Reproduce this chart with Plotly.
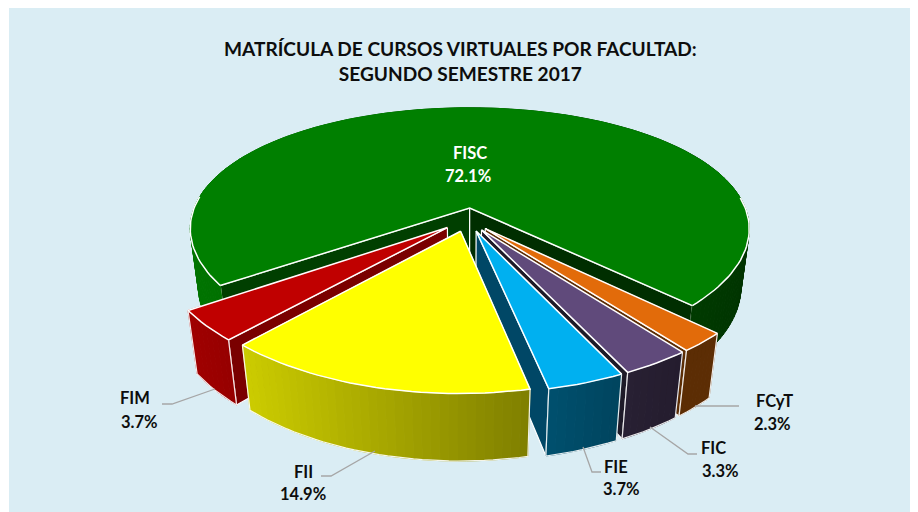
import math
import plotly.graph_objects as go

# ---- data
FACULTADES = ["FISC", "FCyT", "FIC", "FIE", "FII", "FIM"]
PORCENTAJES = [72.1, 2.3, 3.3, 3.7, 14.9, 3.7]
TITULO = "MATRÍCULA DE CURSOS VIRTUALES POR FACULTAD:<br>SEGUNDO SEMESTRE 2017"

# ---- styling per slice
TOP = ["#007F00", "#E26B0A", "#604A7B", "#00B0F0", "#FFFF00", "#C00000"]
WALL_A = ["#007400", "#5C2D04", "#282033", "#00506E", "#CCCC00", "#A00000"]
WALL_B = ["#003400", "#5C2D04", "#241C2E", "#00445E", "#7F7F00", "#960000"]
CUT_START = ["#003F00", None, None, None, None, "#7A0000"]
CUT_END = ["#002E00", "#5C2D04", "#1E1A28", "#004766", None, None]
DRAW_ORDER = ["FISC", "FIM", "FCyT", "FIC", "FIE", "FII"]

# ---- projection of the tilted, exploded pie
CX, CY = 467.5, 219.6
RX, RY, RZ = 280, 124.5, 60
PERSP_X, PERSP_Y, PERSP_Z = 0.17, 0.2, 0.03
EXPLODE = 0.095
FIRST_ANGLE = 235.0


def project(px, py, z=0.0):
    wx = 1 + PERSP_X * py - PERSP_Z * z
    wy = 1 + PERSP_Y * py - PERSP_Z * z
    return CX + RX * px / wx, CY - (RY * py + RZ * z) / wy


def mix(a, b, t):
    ca = [int(a[i:i + 2], 16) for i in (1, 3, 5)]
    cb = [int(b[i:i + 2], 16) for i in (1, 3, 5)]
    return "rgb(" + ",".join(str(round(u + (v - u) * t)) for u, v in zip(ca, cb)) + ")"


fig = go.Figure()


def poly(points, fill, line=None, width=1.5, closed=True):
    xs = [p[0] for p in points]
    ys = [p[1] for p in points]
    if closed:
        xs.append(xs[0])
        ys.append(ys[0])
    fig.add_trace(go.Scatter(
        x=xs, y=ys, mode="lines", hoverinfo="skip", showlegend=False,
        fill="toself" if fill else None, fillcolor=fill,
        line=dict(color=line or fill or "rgba(0,0,0,0)", width=width if line else 1.0),
    ))


total = sum(PORCENTAJES)
spans = {}
angle = FIRST_ANGLE
for i, name in enumerate(FACULTADES):
    sweep = PORCENTAJES[i] / total * 360
    spans[name] = (i, angle, angle + sweep)
    angle += sweep

for name in DRAW_ORDER:
    i, a0, a1 = spans[name]
    mid = math.radians((a0 + a1) / 2)
    ox, oy = EXPLODE * math.sin(mid), EXPLODE * math.cos(mid)
    n = max(8, int((a1 - a0) / 1.5))
    arc = []
    for k in range(n + 1):
        t = math.radians(a0 + (a1 - a0) * k / n)
        arc.append((ox + math.sin(t), oy + math.cos(t)))

    def face(end, color):
        ex, ey = end
        pts = [project(ox, oy), project(ex, ey), project(ex, ey, -1), project(ox, oy, -1)]
        poly(pts, color, "white", 1.2)

    if CUT_START[i]:
        face(arc[0], CUT_START[i])
    if CUT_END[i]:
        face(arc[-1], CUT_END[i])

    # outer wall, in strips, so it can carry the horizontal shading
    walls = [project(*p) for p in arc]
    lo, hi = min(w[0] for w in walls), max(w[0] for w in walls)
    for k in range(n):
        p, q = arc[k], arc[k + 1]
        xm = (project(*p)[0] + project(*q)[0]) / 2
        t = (xm - lo) / (hi - lo)
        c = mix(WALL_A[i], WALL_B[i], t)
        poly([project(*p), project(*q), project(*q, -1), project(*p, -1)], c)
    edge_lo = [project(*p, -1) for p in arc]
    if name != "FISC":
        poly([project(*arc[0])] + [edge_lo[0]] + edge_lo + [project(*arc[-1])], None,
             "rgba(255,255,255,0.9)", 1.2, closed=False)

    apex = project(ox, oy)
    poly([apex] + [project(*p) for p in arc], TOP[i])
    if name == "FISC":
        # only the edge that faces the viewer carries the white outline
        start = [p for p in arc[:n // 2] if p[1] < oy + 0.1]
        end = [p for p in arc[n // 2:] if p[1] < oy + 0.1]
        poly([project(*p) for p in start], None, "white", 1.5, closed=False)
        poly([project(*p) for p in end], None, "white", 1.5, closed=False)
        poly([project(*arc[0]), apex, project(*arc[-1])], None, "white", 1.5, closed=False)
    else:
        poly([apex] + [project(*p) for p in arc], None, "white", 1.5)

LEADERS = [
    [(215, 389), (172, 404), (162, 404)],
    [(375, 451), (331, 476), (321, 476)],
    [(583, 447), (592, 472), (601, 472)],
    [(650, 427), (688, 454), (697, 454)],
    [(695, 406), (739, 406)],
]
for pts in LEADERS:
    fig.add_shape(type="path", xref="x", yref="y",
                  path="M" + " L".join(f"{x},{y}" for x, y in pts),
                  line=dict(color="#A6A6A6", width=1.3), layer="above")

NAME_POS = {"FISC": (470, 153), "FIM": (135, 398), "FII": (303, 472),
            "FIE": (616, 467), "FIC": (713, 448), "FCyT": (774, 401)}
VALUE_POS = {"FISC": (468, 176), "FIM": (139, 422), "FII": (303, 494),
             "FIE": (621, 489), "FIC": (720, 471), "FCyT": (772, 424)}
for name, v in zip(FACULTADES, PORCENTAJES):
    color = "white" if name == "FISC" else "#0D0D0D"
    for pos, txt in ((NAME_POS[name], name), (VALUE_POS[name], f"{v}%")):
        fig.add_annotation(x=pos[0], y=pos[1], xref="x", yref="y", showarrow=False,
                           text=f"<b>{txt}</b>",
                           font=dict(family="Lato", size=16.5, color=color))

fig.add_annotation(x=460.5, y=61, xref="x", yref="y", showarrow=False, text=f"<b>{TITULO}</b>",
                   font=dict(family="Lato", size=19.1, color="#0D0D0D"))

fig.update_layout(
    width=910, height=504, autosize=False,
    margin=dict(l=1, r=0, t=0, b=0),
    paper_bgcolor="white", plot_bgcolor="#DAEDF4",
    xaxis=dict(range=[9, 918], visible=False, fixedrange=True),
    yaxis=dict(range=[512, 8], visible=False, fixedrange=True),
)
fig.write_html("out.html", config={"displayModeBar": False})
